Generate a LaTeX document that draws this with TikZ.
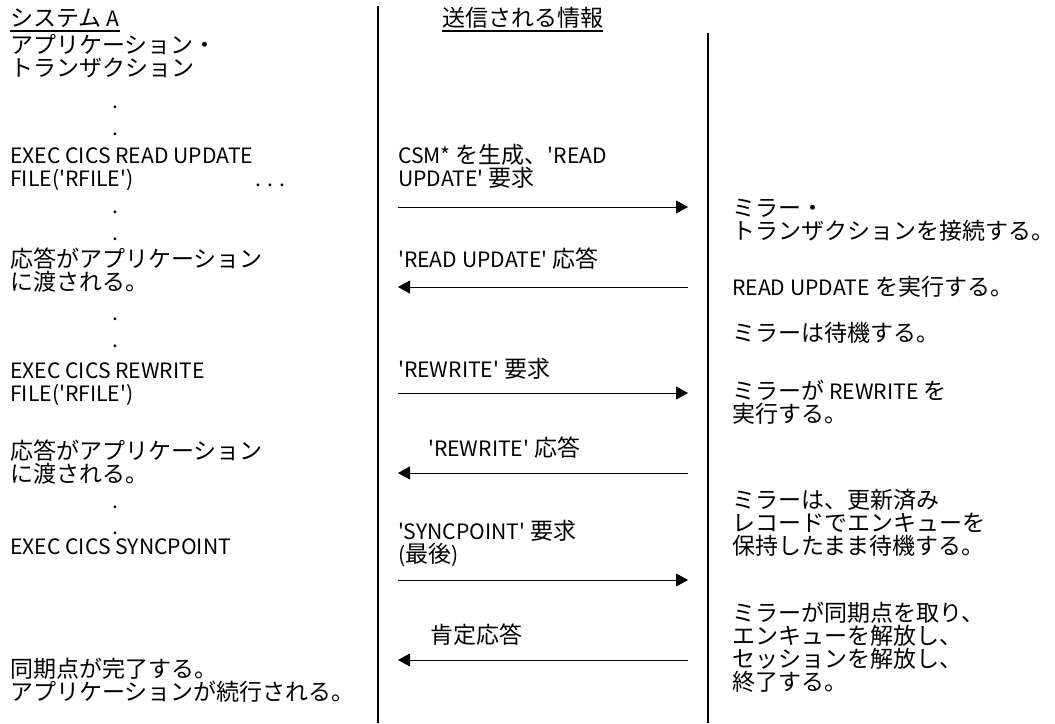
\documentclass[tikz,border=0pt]{standalone}
\usepackage{fontspec}
\newfontfamily\jp{Noto Sans CJK JP}
\newfontfamily\latn{Noto Sans CJK JP}[Scale=0.92]
\usetikzlibrary{arrows.meta}

\begin{document}
\begin{tikzpicture}
[   x=1pt,y=-1pt,
    txt/.style={anchor=base west,inner sep=0pt,align=left,font=\jp\fontsize{23}{23}\selectfont},
    msg/.style={line width=0.8pt,-{Triangle[length=12pt,width=13pt]}},
    rule/.style={line width=1.5pt},
]
    \useasboundingbox (0,0) rectangle (1055,723);

    % column heads (base = last line)
    \node[txt] (hSys) at (10,26) {システム {\latn A}};
    \node[txt] (hInfo) at (442,26) {送信される情報};
    \draw[line width=1.3pt] ([yshift=-5pt]hSys.base west) -- ([yshift=-5pt]hSys.base east);
    \draw[line width=1.3pt] ([yshift=-5pt]hInfo.base west) -- ([yshift=-5pt]hInfo.base east);

    \coordinate (divA-t) at (378,6);
    \coordinate (divA-b) at (378,723);
    \coordinate (divB-t) at (708,33);
    \coordinate (divB-b) at (708,723);
    \draw[rule] (divA-t) -- (divA-b);
    \draw[rule] (divB-t) -- (divB-b);

    % system A
    \node[txt] (app) at (10,76) {アプリケーション・\\トランザクション};
    \node[txt] (exec1) at (10,186) {\latn EXEC CICS READ UPDATE\\\latn FILE('RFILE')};
    \node[txt] (cont1) at (255,186) {\latn . . .};
    \node[txt] (resp1) at (10,290) {応答がアプリケーション\\に渡される。};
    \node[txt] (exec2) at (10,401) {\latn EXEC CICS REWRITE\\\latn FILE('RFILE')};
    \node[txt] (resp2) at (10,482) {応答がアプリケーション\\に渡される。};
    \node[txt] (exec3) at (10,554) {\latn EXEC CICS SYNCPOINT};
    \node[txt] (done) at (10,700) {同期点が完了する。\\アプリケーションが続行される。};
    \foreach \y [count=\i] in {108,135,213,240,320,347,508,534}
        \node[txt,anchor=base] (dot-\i) at (115,\y) {\latn .};

    % flows
    \node[txt] (csm) at (398,186) {{\latn CSM*} を生成、{\latn 'READ}\\{\latn UPDATE'} 要求};
    \node[txt] (rdAns) at (398,267) {{\latn 'READ UPDATE'} 応答};
    \node[txt] (rwReq) at (398,377) {{\latn 'REWRITE'} 要求};
    \node[txt] (rwAns) at (428,456) {{\latn 'REWRITE'} 応答};
    \node[txt] (spReq) at (398,562) {{\latn 'SYNCPOINT'} 要求\\{\latn (}最後{\latn )}};
    \node[txt] (ack) at (430,643) {肯定応答};

    \foreach \i/\y in {1/207,2/287,3/393,4/473,5/580,6/660}
    {   \coordinate (ml-\i) at (398,\y);
        \coordinate (mr-\i) at (688,\y);
    }
    \foreach \i in {1,3,5}
        \draw[msg] (ml-\i) -- (mr-\i);
    \foreach \i in {2,4,6}
        \draw[msg] (mr-\i) -- (ml-\i);

    % mirror
    \node[txt] (mir1) at (732,239) {ミラー・\\トランザクションを接続する。};
    \node[txt] (mir2) at (732,295) {{\latn READ UPDATE} を実行する。};
    \node[txt] (mir3) at (732,341) {ミラーは待機する。};
    \node[txt] (mir4) at (732,422) {ミラーが {\latn REWRITE} を\\実行する。};
    \node[txt] (mir5) at (732,554) {ミラーは、更新済み\\レコードでエンキューを\\保持したまま待機する。};
    \node[txt] (mir6) at (732,690) {ミラーが同期点を取り、\\エンキューを解放し、\\セッションを解放し、\\終了する。};
\end{tikzpicture}
\end{document}
